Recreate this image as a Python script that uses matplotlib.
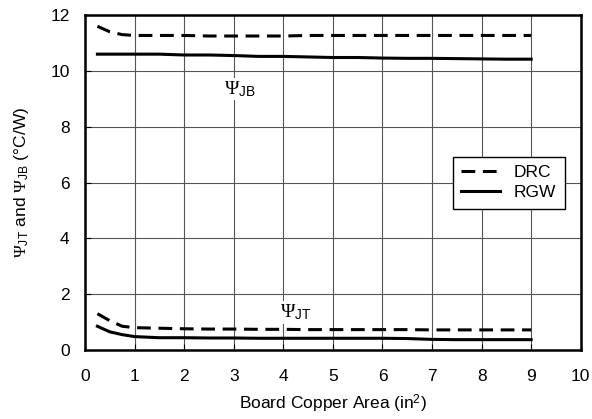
import numpy as np
import matplotlib
matplotlib.use("Agg")
import matplotlib.pyplot as plt

plt.rcParams["font.family"] = ["Liberation Sans", "DejaVu Sans"]
plt.rcParams["mathtext.fontset"] = "custom"
plt.rcParams["mathtext.rm"] = "Liberation Serif"
plt.rcParams["mathtext.sf"] = "Liberation Sans"
plt.rcParams["mathtext.it"] = "Liberation Serif:italic"

# --- data ---
area = [0.25, 0.5, 0.75, 1.0, 1.5, 2, 2.5, 3, 3.5, 4, 4.5, 5, 5.5, 6, 6.5, 7, 7.5, 8, 8.5, 9]
drc_jb = [11.6, 11.4, 11.3, 11.27, 11.27, 11.27, 11.25, 11.25, 11.25, 11.25, 11.27, 11.27, 11.27, 11.27, 11.27, 11.27, 11.27, 11.27, 11.27, 11.27]
rgw_jb = [10.6, 10.6, 10.6, 10.6, 10.6, 10.57, 10.57, 10.55, 10.52, 10.52, 10.5, 10.48, 10.48, 10.46, 10.45, 10.45, 10.44, 10.43, 10.42, 10.42]
drc_jt = [1.3, 1.05, 0.85, 0.8, 0.78, 0.76, 0.75, 0.75, 0.74, 0.74, 0.73, 0.73, 0.73, 0.73, 0.73, 0.72, 0.72, 0.72, 0.72, 0.72]
rgw_jt = [0.85, 0.65, 0.55, 0.48, 0.44, 0.44, 0.43, 0.43, 0.42, 0.42, 0.42, 0.42, 0.42, 0.42, 0.41, 0.38, 0.37, 0.37, 0.37, 0.37]

fig = plt.figure(figsize=(5.92, 4.19), dpi=100)
ax = fig.add_axes([0.1436, 0.1647, 0.8374, 0.7993])

dash = (0, (4.5, 2.5))
ax.plot(area, drc_jb, color="black", lw=2.2, ls=dash, label="DRC")
ax.plot(area, rgw_jb, color="black", lw=2.2, label="RGW")
ax.plot(area, drc_jt, color="black", lw=2.2, ls=dash)
ax.plot(area, rgw_jt, color="black", lw=2.2)

ax.set_xlim(0, 10); ax.set_ylim(0, 12)
ax.set_xticks(range(0, 11)); ax.set_yticks(range(0, 13, 2))
ax.grid(True, color="#555555", lw=0.8)
ax.set_axisbelow(True)
for s in ax.spines.values():
    s.set_linewidth(1.8)
ax.tick_params(direction="in", length=4, labelsize=12.5)
ax.tick_params(axis="x", pad=14)
ax.tick_params(axis="y", pad=11)

ax.text(3.12, 9.35, r"$\Psi_{\mathsf{JB}}$", fontsize=14, ha="center", va="center",
        bbox=dict(facecolor="white", edgecolor="none", pad=1))
ax.text(4.25, 1.35, r"$\Psi_{\mathsf{JT}}$", fontsize=14, ha="center", va="center",
        bbox=dict(facecolor="white", edgecolor="none", pad=1))

ax.set_xlabel(r"Board Copper Area (in$^{\mathsf{2}}$)", fontsize=12.5, labelpad=6)
ax.set_ylabel(r"$\Psi_{\mathsf{JT}}$ and $\Psi_{\mathsf{JB}}$ (°C/W)", fontsize=12.5, labelpad=14)

leg = ax.legend(loc="center right", bbox_to_anchor=(0.985, 0.5), fontsize=12.5, fancybox=False,
                framealpha=1, edgecolor="black", handlelength=2.2, borderpad=0.5, labelspacing=0.25)
leg.get_frame().set_linewidth(1.0)

fig.savefig("out.png", dpi=100)
